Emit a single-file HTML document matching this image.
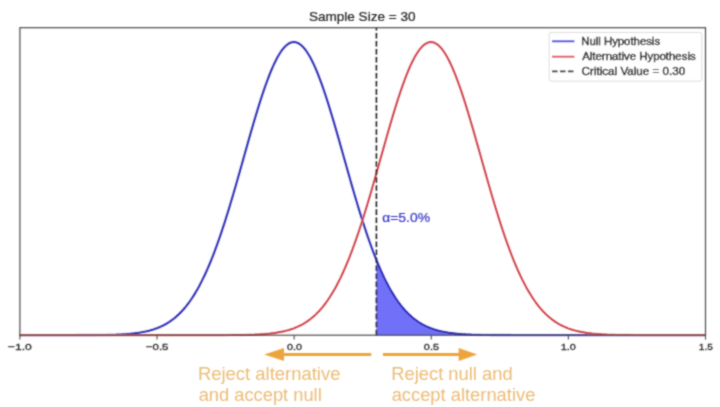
<!DOCTYPE html>
<html><head><meta charset="utf-8"><style>
html,body{margin:0;padding:0;background:#fff;width:720px;height:407px;overflow:hidden}
svg{display:block}
text{font-family:"Liberation Sans",sans-serif}
.tk{fill:#2a2a2a;stroke:#2a2a2a;stroke-width:0.3px}
.ti{fill:#262626;stroke:#262626;stroke-width:0.22px}
.al{fill:#3434c8;stroke:#3434c8;stroke-width:0.2px}
.lg{fill:#1e1e1e;stroke:#1e1e1e;stroke-width:0.4px}
.ot{fill:#ebbc76}
</style></head><body>
<svg width="720" height="407" viewBox="0 0 720 407">
<defs><path id="pn" d="M19.60,335.20 L20.97,335.20 L22.34,335.20 L23.71,335.20 L25.08,335.20 L26.46,335.20 L27.83,335.20 L29.20,335.20 L30.57,335.20 L31.94,335.20 L33.31,335.20 L34.68,335.20 L36.05,335.20 L37.43,335.20 L38.80,335.20 L40.17,335.20 L41.54,335.20 L42.91,335.20 L44.28,335.20 L45.65,335.20 L47.02,335.20 L48.40,335.20 L49.77,335.20 L51.14,335.20 L52.51,335.20 L53.88,335.20 L55.25,335.20 L56.62,335.20 L57.99,335.20 L59.36,335.19 L60.74,335.19 L62.11,335.19 L63.48,335.19 L64.85,335.19 L66.22,335.19 L67.59,335.19 L68.96,335.19 L70.33,335.19 L71.71,335.18 L73.08,335.18 L74.45,335.18 L75.82,335.18 L77.19,335.17 L78.56,335.17 L79.93,335.17 L81.30,335.16 L82.68,335.16 L84.05,335.15 L85.42,335.15 L86.79,335.14 L88.16,335.14 L89.53,335.13 L90.90,335.12 L92.27,335.11 L93.64,335.10 L95.02,335.09 L96.39,335.08 L97.76,335.06 L99.13,335.05 L100.50,335.03 L101.87,335.01 L103.24,334.99 L104.61,334.97 L105.99,334.94 L107.36,334.92 L108.73,334.88 L110.10,334.85 L111.47,334.81 L112.84,334.77 L114.21,334.73 L115.58,334.68 L116.96,334.63 L118.33,334.57 L119.70,334.51 L121.07,334.44 L122.44,334.36 L123.81,334.28 L125.18,334.19 L126.55,334.10 L127.92,333.99 L129.30,333.88 L130.67,333.75 L132.04,333.62 L133.41,333.47 L134.78,333.31 L136.15,333.14 L137.52,332.96 L138.89,332.76 L140.27,332.54 L141.64,332.31 L143.01,332.06 L144.38,331.79 L145.75,331.51 L147.12,331.20 L148.49,330.86 L149.86,330.51 L151.24,330.12 L152.61,329.71 L153.98,329.28 L155.35,328.81 L156.72,328.31 L158.09,327.77 L159.46,327.20 L160.83,326.60 L162.20,325.95 L163.58,325.26 L164.95,324.53 L166.32,323.76 L167.69,322.94 L169.06,322.07 L170.43,321.14 L171.80,320.17 L173.17,319.14 L174.55,318.05 L175.92,316.90 L177.29,315.68 L178.66,314.41 L180.03,313.06 L181.40,311.65 L182.77,310.17 L184.14,308.61 L185.52,306.97 L186.89,305.26 L188.26,303.47 L189.63,301.60 L191.00,299.64 L192.37,297.59 L193.74,295.46 L195.11,293.24 L196.48,290.93 L197.86,288.53 L199.23,286.03 L200.60,283.44 L201.97,280.75 L203.34,277.97 L204.71,275.08 L206.08,272.11 L207.45,269.03 L208.83,265.85 L210.20,262.58 L211.57,259.21 L212.94,255.74 L214.31,252.18 L215.68,248.52 L217.05,244.76 L218.42,240.92 L219.80,236.99 L221.17,232.97 L222.54,228.86 L223.91,224.67 L225.28,220.41 L226.65,216.06 L228.02,211.65 L229.39,207.17 L230.76,202.63 L232.14,198.02 L233.51,193.37 L234.88,188.67 L236.25,183.92 L237.62,179.14 L238.99,174.32 L240.36,169.49 L241.73,164.63 L243.11,159.77 L244.48,154.90 L245.85,150.03 L247.22,145.18 L248.59,140.34 L249.96,135.54 L251.33,130.76 L252.70,126.03 L254.08,121.35 L255.45,116.73 L256.82,112.18 L258.19,107.70 L259.56,103.31 L260.93,99.01 L262.30,94.81 L263.67,90.72 L265.04,86.74 L266.42,82.90 L267.79,79.18 L269.16,75.60 L270.53,72.17 L271.90,68.90 L273.27,65.78 L274.64,62.84 L276.01,60.06 L277.39,57.47 L278.76,55.07 L280.13,52.85 L281.50,50.83 L282.87,49.02 L284.24,47.40 L285.61,45.99 L286.98,44.80 L288.36,43.82 L289.73,43.05 L291.10,42.50 L292.47,42.17 L293.84,42.06 L295.21,42.17 L296.58,42.50 L297.95,43.05 L299.32,43.82 L300.70,44.80 L302.07,45.99 L303.44,47.40 L304.81,49.02 L306.18,50.83 L307.55,52.85 L308.92,55.07 L310.29,57.47 L311.67,60.06 L313.04,62.84 L314.41,65.78 L315.78,68.90 L317.15,72.17 L318.52,75.60 L319.89,79.18 L321.26,82.90 L322.64,86.74 L324.01,90.72 L325.38,94.81 L326.75,99.01 L328.12,103.31 L329.49,107.70 L330.86,112.18 L332.23,116.73 L333.60,121.35 L334.98,126.03 L336.35,130.76 L337.72,135.54 L339.09,140.34 L340.46,145.18 L341.83,150.03 L343.20,154.90 L344.57,159.77 L345.95,164.63 L347.32,169.49 L348.69,174.32 L350.06,179.14 L351.43,183.92 L352.80,188.67 L354.17,193.37 L355.54,198.02 L356.92,202.63 L358.29,207.17 L359.66,211.65 L361.03,216.06 L362.40,220.41 L363.77,224.67 L365.14,228.86 L366.51,232.97 L367.88,236.99 L369.26,240.92 L370.63,244.76 L372.00,248.52 L373.37,252.18 L374.74,255.74 L376.11,259.21 L377.48,262.58 L378.85,265.85 L380.23,269.03 L381.60,272.11 L382.97,275.08 L384.34,277.97 L385.71,280.75 L387.08,283.44 L388.45,286.03 L389.82,288.53 L391.20,290.93 L392.57,293.24 L393.94,295.46 L395.31,297.59 L396.68,299.64 L398.05,301.60 L399.42,303.47 L400.79,305.26 L402.16,306.97 L403.54,308.61 L404.91,310.17 L406.28,311.65 L407.65,313.06 L409.02,314.41 L410.39,315.68 L411.76,316.90 L413.13,318.05 L414.51,319.14 L415.88,320.17 L417.25,321.14 L418.62,322.07 L419.99,322.94 L421.36,323.76 L422.73,324.53 L424.10,325.26 L425.48,325.95 L426.85,326.60 L428.22,327.20 L429.59,327.77 L430.96,328.31 L432.33,328.81 L433.70,329.28 L435.07,329.71 L436.44,330.12 L437.82,330.51 L439.19,330.86 L440.56,331.20 L441.93,331.51 L443.30,331.79 L444.67,332.06 L446.04,332.31 L447.41,332.54 L448.79,332.76 L450.16,332.96 L451.53,333.14 L452.90,333.31 L454.27,333.47 L455.64,333.62 L457.01,333.75 L458.38,333.88 L459.76,333.99 L461.13,334.10 L462.50,334.19 L463.87,334.28 L465.24,334.36 L466.61,334.44 L467.98,334.51 L469.35,334.57 L470.72,334.63 L472.10,334.68 L473.47,334.73 L474.84,334.77 L476.21,334.81 L477.58,334.85 L478.95,334.88 L480.32,334.92 L481.69,334.94 L483.07,334.97 L484.44,334.99 L485.81,335.01 L487.18,335.03 L488.55,335.05 L489.92,335.06 L491.29,335.08 L492.66,335.09 L494.04,335.10 L495.41,335.11 L496.78,335.12 L498.15,335.13 L499.52,335.14 L500.89,335.14 L502.26,335.15 L503.63,335.15 L505.00,335.16 L506.38,335.16 L507.75,335.17 L509.12,335.17 L510.49,335.17 L511.86,335.18 L513.23,335.18 L514.60,335.18 L515.97,335.18 L517.35,335.19 L518.72,335.19 L520.09,335.19 L521.46,335.19 L522.83,335.19 L524.20,335.19 L525.57,335.19 L526.94,335.19 L528.32,335.19 L529.69,335.20 L531.06,335.20 L532.43,335.20 L533.80,335.20 L535.17,335.20 L536.54,335.20 L537.91,335.20 L539.28,335.20 L540.66,335.20 L542.03,335.20 L543.40,335.20 L544.77,335.20 L546.14,335.20 L547.51,335.20 L548.88,335.20 L550.25,335.20 L551.63,335.20 L553.00,335.20 L554.37,335.20 L555.74,335.20 L557.11,335.20 L558.48,335.20 L559.85,335.20 L561.22,335.20 L562.60,335.20 L563.97,335.20 L565.34,335.20 L566.71,335.20 L568.08,335.20 L569.45,335.20 L570.82,335.20 L572.19,335.20 L573.56,335.20 L574.94,335.20 L576.31,335.20 L577.68,335.20 L579.05,335.20 L580.42,335.20 L581.79,335.20 L583.16,335.20 L584.53,335.20 L585.91,335.20 L587.28,335.20 L588.65,335.20 L590.02,335.20 L591.39,335.20 L592.76,335.20 L594.13,335.20 L595.50,335.20 L596.88,335.20 L598.25,335.20 L599.62,335.20 L600.99,335.20 L602.36,335.20 L603.73,335.20 L605.10,335.20 L606.47,335.20 L607.84,335.20 L609.22,335.20 L610.59,335.20 L611.96,335.20 L613.33,335.20 L614.70,335.20 L616.07,335.20 L617.44,335.20 L618.81,335.20 L620.19,335.20 L621.56,335.20 L622.93,335.20 L624.30,335.20 L625.67,335.20 L627.04,335.20 L628.41,335.20 L629.78,335.20 L631.16,335.20 L632.53,335.20 L633.90,335.20 L635.27,335.20 L636.64,335.20 L638.01,335.20 L639.38,335.20 L640.75,335.20 L642.12,335.20 L643.50,335.20 L644.87,335.20 L646.24,335.20 L647.61,335.20 L648.98,335.20 L650.35,335.20 L651.72,335.20 L653.09,335.20 L654.47,335.20 L655.84,335.20 L657.21,335.20 L658.58,335.20 L659.95,335.20 L661.32,335.20 L662.69,335.20 L664.06,335.20 L665.44,335.20 L666.81,335.20 L668.18,335.20 L669.55,335.20 L670.92,335.20 L672.29,335.20 L673.66,335.20 L675.03,335.20 L676.40,335.20 L677.78,335.20 L679.15,335.20 L680.52,335.20 L681.89,335.20 L683.26,335.20 L684.63,335.20 L686.00,335.20 L687.37,335.20 L688.75,335.20 L690.12,335.20 L691.49,335.20 L692.86,335.20 L694.23,335.20 L695.60,335.20 L696.97,335.20 L698.34,335.20 L699.72,335.20 L701.09,335.20 L702.46,335.20 L703.83,335.20 L705.20,335.20"/><path id="pa" d="M19.60,335.20 L20.97,335.20 L22.34,335.20 L23.71,335.20 L25.08,335.20 L26.46,335.20 L27.83,335.20 L29.20,335.20 L30.57,335.20 L31.94,335.20 L33.31,335.20 L34.68,335.20 L36.05,335.20 L37.43,335.20 L38.80,335.20 L40.17,335.20 L41.54,335.20 L42.91,335.20 L44.28,335.20 L45.65,335.20 L47.02,335.20 L48.40,335.20 L49.77,335.20 L51.14,335.20 L52.51,335.20 L53.88,335.20 L55.25,335.20 L56.62,335.20 L57.99,335.20 L59.36,335.20 L60.74,335.20 L62.11,335.20 L63.48,335.20 L64.85,335.20 L66.22,335.20 L67.59,335.20 L68.96,335.20 L70.33,335.20 L71.71,335.20 L73.08,335.20 L74.45,335.20 L75.82,335.20 L77.19,335.20 L78.56,335.20 L79.93,335.20 L81.30,335.20 L82.68,335.20 L84.05,335.20 L85.42,335.20 L86.79,335.20 L88.16,335.20 L89.53,335.20 L90.90,335.20 L92.27,335.20 L93.64,335.20 L95.02,335.20 L96.39,335.20 L97.76,335.20 L99.13,335.20 L100.50,335.20 L101.87,335.20 L103.24,335.20 L104.61,335.20 L105.99,335.20 L107.36,335.20 L108.73,335.20 L110.10,335.20 L111.47,335.20 L112.84,335.20 L114.21,335.20 L115.58,335.20 L116.96,335.20 L118.33,335.20 L119.70,335.20 L121.07,335.20 L122.44,335.20 L123.81,335.20 L125.18,335.20 L126.55,335.20 L127.92,335.20 L129.30,335.20 L130.67,335.20 L132.04,335.20 L133.41,335.20 L134.78,335.20 L136.15,335.20 L137.52,335.20 L138.89,335.20 L140.27,335.20 L141.64,335.20 L143.01,335.20 L144.38,335.20 L145.75,335.20 L147.12,335.20 L148.49,335.20 L149.86,335.20 L151.24,335.20 L152.61,335.20 L153.98,335.20 L155.35,335.20 L156.72,335.20 L158.09,335.20 L159.46,335.20 L160.83,335.20 L162.20,335.20 L163.58,335.20 L164.95,335.20 L166.32,335.20 L167.69,335.20 L169.06,335.20 L170.43,335.20 L171.80,335.20 L173.17,335.20 L174.55,335.20 L175.92,335.20 L177.29,335.20 L178.66,335.20 L180.03,335.20 L181.40,335.20 L182.77,335.20 L184.14,335.20 L185.52,335.20 L186.89,335.20 L188.26,335.20 L189.63,335.20 L191.00,335.20 L192.37,335.20 L193.74,335.20 L195.11,335.20 L196.48,335.19 L197.86,335.19 L199.23,335.19 L200.60,335.19 L201.97,335.19 L203.34,335.19 L204.71,335.19 L206.08,335.19 L207.45,335.19 L208.83,335.18 L210.20,335.18 L211.57,335.18 L212.94,335.18 L214.31,335.17 L215.68,335.17 L217.05,335.17 L218.42,335.16 L219.80,335.16 L221.17,335.15 L222.54,335.15 L223.91,335.14 L225.28,335.14 L226.65,335.13 L228.02,335.12 L229.39,335.11 L230.76,335.10 L232.14,335.09 L233.51,335.08 L234.88,335.06 L236.25,335.05 L237.62,335.03 L238.99,335.01 L240.36,334.99 L241.73,334.97 L243.11,334.94 L244.48,334.92 L245.85,334.88 L247.22,334.85 L248.59,334.81 L249.96,334.77 L251.33,334.73 L252.70,334.68 L254.08,334.63 L255.45,334.57 L256.82,334.51 L258.19,334.44 L259.56,334.36 L260.93,334.28 L262.30,334.19 L263.67,334.10 L265.04,333.99 L266.42,333.88 L267.79,333.75 L269.16,333.62 L270.53,333.47 L271.90,333.31 L273.27,333.14 L274.64,332.96 L276.01,332.76 L277.39,332.54 L278.76,332.31 L280.13,332.06 L281.50,331.79 L282.87,331.51 L284.24,331.20 L285.61,330.86 L286.98,330.51 L288.36,330.12 L289.73,329.71 L291.10,329.28 L292.47,328.81 L293.84,328.31 L295.21,327.77 L296.58,327.20 L297.95,326.60 L299.32,325.95 L300.70,325.26 L302.07,324.53 L303.44,323.76 L304.81,322.94 L306.18,322.07 L307.55,321.14 L308.92,320.17 L310.29,319.14 L311.67,318.05 L313.04,316.90 L314.41,315.68 L315.78,314.41 L317.15,313.06 L318.52,311.65 L319.89,310.17 L321.26,308.61 L322.64,306.97 L324.01,305.26 L325.38,303.47 L326.75,301.60 L328.12,299.64 L329.49,297.59 L330.86,295.46 L332.23,293.24 L333.60,290.93 L334.98,288.53 L336.35,286.03 L337.72,283.44 L339.09,280.75 L340.46,277.97 L341.83,275.08 L343.20,272.11 L344.57,269.03 L345.95,265.85 L347.32,262.58 L348.69,259.21 L350.06,255.74 L351.43,252.18 L352.80,248.52 L354.17,244.76 L355.54,240.92 L356.92,236.99 L358.29,232.97 L359.66,228.86 L361.03,224.67 L362.40,220.41 L363.77,216.06 L365.14,211.65 L366.51,207.17 L367.88,202.63 L369.26,198.02 L370.63,193.37 L372.00,188.67 L373.37,183.92 L374.74,179.14 L376.11,174.32 L377.48,169.49 L378.85,164.63 L380.23,159.77 L381.60,154.90 L382.97,150.03 L384.34,145.18 L385.71,140.34 L387.08,135.54 L388.45,130.76 L389.82,126.03 L391.20,121.35 L392.57,116.73 L393.94,112.18 L395.31,107.70 L396.68,103.31 L398.05,99.01 L399.42,94.81 L400.79,90.72 L402.16,86.74 L403.54,82.90 L404.91,79.18 L406.28,75.60 L407.65,72.17 L409.02,68.90 L410.39,65.78 L411.76,62.84 L413.13,60.06 L414.51,57.47 L415.88,55.07 L417.25,52.85 L418.62,50.83 L419.99,49.02 L421.36,47.40 L422.73,45.99 L424.10,44.80 L425.48,43.82 L426.85,43.05 L428.22,42.50 L429.59,42.17 L430.96,42.06 L432.33,42.17 L433.70,42.50 L435.07,43.05 L436.44,43.82 L437.82,44.80 L439.19,45.99 L440.56,47.40 L441.93,49.02 L443.30,50.83 L444.67,52.85 L446.04,55.07 L447.41,57.47 L448.79,60.06 L450.16,62.84 L451.53,65.78 L452.90,68.90 L454.27,72.17 L455.64,75.60 L457.01,79.18 L458.38,82.90 L459.76,86.74 L461.13,90.72 L462.50,94.81 L463.87,99.01 L465.24,103.31 L466.61,107.70 L467.98,112.18 L469.35,116.73 L470.72,121.35 L472.10,126.03 L473.47,130.76 L474.84,135.54 L476.21,140.34 L477.58,145.18 L478.95,150.03 L480.32,154.90 L481.69,159.77 L483.07,164.63 L484.44,169.49 L485.81,174.32 L487.18,179.14 L488.55,183.92 L489.92,188.67 L491.29,193.37 L492.66,198.02 L494.04,202.63 L495.41,207.17 L496.78,211.65 L498.15,216.06 L499.52,220.41 L500.89,224.67 L502.26,228.86 L503.63,232.97 L505.00,236.99 L506.38,240.92 L507.75,244.76 L509.12,248.52 L510.49,252.18 L511.86,255.74 L513.23,259.21 L514.60,262.58 L515.97,265.85 L517.35,269.03 L518.72,272.11 L520.09,275.08 L521.46,277.97 L522.83,280.75 L524.20,283.44 L525.57,286.03 L526.94,288.53 L528.32,290.93 L529.69,293.24 L531.06,295.46 L532.43,297.59 L533.80,299.64 L535.17,301.60 L536.54,303.47 L537.91,305.26 L539.28,306.97 L540.66,308.61 L542.03,310.17 L543.40,311.65 L544.77,313.06 L546.14,314.41 L547.51,315.68 L548.88,316.90 L550.25,318.05 L551.63,319.14 L553.00,320.17 L554.37,321.14 L555.74,322.07 L557.11,322.94 L558.48,323.76 L559.85,324.53 L561.22,325.26 L562.60,325.95 L563.97,326.60 L565.34,327.20 L566.71,327.77 L568.08,328.31 L569.45,328.81 L570.82,329.28 L572.19,329.71 L573.56,330.12 L574.94,330.51 L576.31,330.86 L577.68,331.20 L579.05,331.51 L580.42,331.79 L581.79,332.06 L583.16,332.31 L584.53,332.54 L585.91,332.76 L587.28,332.96 L588.65,333.14 L590.02,333.31 L591.39,333.47 L592.76,333.62 L594.13,333.75 L595.50,333.88 L596.88,333.99 L598.25,334.10 L599.62,334.19 L600.99,334.28 L602.36,334.36 L603.73,334.44 L605.10,334.51 L606.47,334.57 L607.84,334.63 L609.22,334.68 L610.59,334.73 L611.96,334.77 L613.33,334.81 L614.70,334.85 L616.07,334.88 L617.44,334.92 L618.81,334.94 L620.19,334.97 L621.56,334.99 L622.93,335.01 L624.30,335.03 L625.67,335.05 L627.04,335.06 L628.41,335.08 L629.78,335.09 L631.16,335.10 L632.53,335.11 L633.90,335.12 L635.27,335.13 L636.64,335.14 L638.01,335.14 L639.38,335.15 L640.75,335.15 L642.12,335.16 L643.50,335.16 L644.87,335.17 L646.24,335.17 L647.61,335.17 L648.98,335.18 L650.35,335.18 L651.72,335.18 L653.09,335.18 L654.47,335.19 L655.84,335.19 L657.21,335.19 L658.58,335.19 L659.95,335.19 L661.32,335.19 L662.69,335.19 L664.06,335.19 L665.44,335.19 L666.81,335.20 L668.18,335.20 L669.55,335.20 L670.92,335.20 L672.29,335.20 L673.66,335.20 L675.03,335.20 L676.40,335.20 L677.78,335.20 L679.15,335.20 L680.52,335.20 L681.89,335.20 L683.26,335.20 L684.63,335.20 L686.00,335.20 L687.37,335.20 L688.75,335.20 L690.12,335.20 L691.49,335.20 L692.86,335.20 L694.23,335.20 L695.60,335.20 L696.97,335.20 L698.34,335.20 L699.72,335.20 L701.09,335.20 L702.46,335.20 L703.83,335.20 L705.20,335.20"/><filter id="bl" x="-2%" y="-2%" width="104%" height="104%"><feConvolveMatrix order="3" kernelMatrix="1 2 1 2 8 2 1 2 1" edgeMode="none"/></filter></defs>
<rect width="720" height="407" fill="#fff"/>
<g filter="url(#bl)">
<use href="#pn" fill="none" stroke-linejoin="round" stroke="#aeaef4" stroke-width="2.6"/>
<path d="M376.41,259.21 L377.73,262.45 L379.04,265.59 L380.36,268.65 L381.68,271.62 L382.99,274.50 L384.31,277.28 L385.63,279.98 L386.94,282.59 L388.26,285.11 L389.58,287.54 L390.89,289.89 L392.21,292.15 L393.52,294.32 L394.84,296.41 L396.16,298.42 L397.47,300.35 L398.79,302.20 L400.11,303.98 L401.42,305.68 L402.74,307.31 L404.06,308.86 L405.37,310.35 L406.69,311.77 L408.00,313.12 L409.32,314.41 L410.64,315.63 L411.95,316.80 L413.27,317.91 L414.59,318.96 L415.90,319.96 L417.22,320.91 L418.54,321.81 L419.85,322.66 L421.17,323.47 L422.48,324.23 L423.80,324.95 L425.12,325.63 L426.43,326.26 L427.75,326.87 L429.07,327.43 L430.38,327.97 L431.70,328.47 L433.02,328.94 L434.33,329.38 L435.65,329.80 L436.96,330.19 L438.28,330.55 L439.60,330.89 L440.91,331.21 L442.23,331.51 L443.55,331.78 L444.86,332.04 L446.18,332.28 L447.50,332.51 L448.81,332.72 L450.13,332.91 L451.44,333.09 L452.76,333.26 L454.08,333.42 L455.39,333.56 L456.71,333.69 L458.03,333.82 L459.34,333.93 L460.66,334.04 L461.97,334.14 L463.29,334.23 L464.61,334.31 L465.92,334.39 L467.24,334.46 L468.56,334.52 L469.87,334.58 L471.19,334.64 L472.51,334.69 L473.82,334.73 L475.14,334.77 L476.45,334.81 L477.77,334.85 L479.09,334.88 L480.40,334.91 L481.72,334.94 L483.04,334.96 L484.35,334.98 L485.67,335.01 L486.99,335.02 L488.30,335.04 L489.62,335.06 L490.93,335.07 L492.25,335.08 L493.57,335.09 L494.88,335.11 L496.20,335.11 L497.52,335.12 L498.83,335.13 L500.15,335.14 L501.47,335.14 L502.78,335.15 L504.10,335.16 L505.41,335.16 L506.73,335.16 L508.05,335.17 L509.36,335.17 L510.68,335.17 L512.00,335.18 L513.31,335.18 L514.63,335.18 L515.95,335.18 L517.26,335.19 L518.58,335.19 L519.89,335.19 L521.21,335.19 L522.53,335.19 L523.84,335.19 L525.16,335.19 L526.48,335.19 L527.79,335.19 L529.11,335.20 L530.43,335.20 L531.74,335.20 L533.06,335.20 L534.37,335.20 L535.69,335.20 L537.01,335.20 L538.32,335.20 L539.64,335.20 L540.96,335.20 L542.27,335.20 L543.59,335.20 L544.91,335.20 L546.22,335.20 L547.54,335.20 L548.85,335.20 L550.17,335.20 L551.49,335.20 L552.80,335.20 L554.12,335.20 L555.44,335.20 L556.75,335.20 L558.07,335.20 L559.38,335.20 L560.70,335.20 L562.02,335.20 L563.33,335.20 L564.65,335.20 L565.97,335.20 L567.28,335.20 L568.60,335.20 L569.92,335.20 L571.23,335.20 L572.55,335.20 L573.86,335.20 L575.18,335.20 L576.50,335.20 L577.81,335.20 L579.13,335.20 L580.45,335.20 L581.76,335.20 L583.08,335.20 L584.40,335.20 L585.71,335.20 L587.03,335.20 L588.34,335.20 L589.66,335.20 L590.98,335.20 L592.29,335.20 L593.61,335.20 L594.93,335.20 L596.24,335.20 L597.56,335.20 L598.88,335.20 L600.19,335.20 L601.51,335.20 L602.82,335.20 L604.14,335.20 L605.46,335.20 L606.77,335.20 L608.09,335.20 L609.41,335.20 L610.72,335.20 L612.04,335.20 L613.36,335.20 L614.67,335.20 L615.99,335.20 L617.30,335.20 L618.62,335.20 L619.94,335.20 L621.25,335.20 L622.57,335.20 L623.89,335.20 L625.20,335.20 L626.52,335.20 L627.84,335.20 L629.15,335.20 L630.47,335.20 L631.78,335.20 L633.10,335.20 L634.42,335.20 L635.73,335.20 L637.05,335.20 L638.37,335.20 L639.68,335.20 L641.00,335.20 L642.32,335.20 L643.63,335.20 L644.95,335.20 L646.26,335.20 L647.58,335.20 L648.90,335.20 L650.21,335.20 L651.53,335.20 L652.85,335.20 L654.16,335.20 L655.48,335.20 L656.79,335.20 L658.11,335.20 L659.43,335.20 L660.74,335.20 L662.06,335.20 L663.38,335.20 L664.69,335.20 L666.01,335.20 L667.33,335.20 L668.64,335.20 L669.96,335.20 L671.27,335.20 L672.59,335.20 L673.91,335.20 L675.22,335.20 L676.54,335.20 L677.86,335.20 L679.17,335.20 L680.49,335.20 L681.81,335.20 L683.12,335.20 L684.44,335.20 L685.75,335.20 L687.07,335.20 L688.39,335.20 L689.70,335.20 L691.02,335.20 L692.34,335.20 L693.65,335.20 L694.97,335.20 L696.29,335.20 L697.60,335.20 L698.92,335.20 L700.23,335.20 L701.55,335.20 L702.87,335.20 L704.18,335.20 L705.50,335.20 L705.50,335.20 L376.41,335.20 Z" fill="#7070f8"/>
<use href="#pn" fill="none" stroke-linejoin="round" stroke="#0e0ca8" stroke-width="1.6"/>
<use href="#pa" fill="none" stroke-linejoin="round" stroke="#f2b4b8" stroke-width="2.5"/>
<use href="#pa" fill="none" stroke-linejoin="round" stroke="#c8202c" stroke-width="1.45"/>
<line x1="376.41" y1="27.7" x2="376.41" y2="335.2" stroke="#1a1a1a" stroke-width="1.55" stroke-dasharray="5.57,2.45" stroke-dashoffset="2.8"/>
<rect x="19.9" y="27.7" width="685.60" height="307.50" fill="none" stroke="#4a4a4a" stroke-width="1.2"/>
<line x1="19.90" y1="335.2" x2="19.90" y2="339.59999999999997" stroke="#4a4a4a" stroke-width="1.1"/>
<line x1="157.02" y1="335.2" x2="157.02" y2="339.59999999999997" stroke="#4a4a4a" stroke-width="1.1"/>
<line x1="294.14" y1="335.2" x2="294.14" y2="339.59999999999997" stroke="#4a4a4a" stroke-width="1.1"/>
<line x1="431.26" y1="335.2" x2="431.26" y2="339.59999999999997" stroke="#4a4a4a" stroke-width="1.1"/>
<line x1="568.38" y1="335.2" x2="568.38" y2="339.59999999999997" stroke="#4a4a4a" stroke-width="1.1"/>
<line x1="705.50" y1="335.2" x2="705.50" y2="339.59999999999997" stroke="#4a4a4a" stroke-width="1.1"/>
<text transform="translate(7.85,350.20) scale(1.2883,1)" font-size="9.4" class="tk">−1.0</text>
<text transform="translate(145.83,350.20) scale(1.2210,1)" font-size="9.4" class="tk">−0.5</text>
<text transform="translate(286.97,350.20) scale(1.1514,1)" font-size="9.4" class="tk">0.0</text>
<text transform="translate(423.87,350.20) scale(1.1549,1)" font-size="9.4" class="tk">0.5</text>
<text transform="translate(560.67,350.20) scale(1.1589,1)" font-size="9.4" class="tk">1.0</text>
<text transform="translate(698.84,350.20) scale(1.0705,1)" font-size="9.4" class="tk">1.5</text>
<text transform="translate(308.88,20.60) scale(1.1308,1)" font-size="12.0" class="ti">Sample Size = 30</text>
<text transform="translate(382.22,221.60) scale(1.0539,1)" font-size="13.2" class="al">α=5.0%</text>
<rect x="549.2" y="32.4" width="152.6" height="48.8" rx="2" fill="#fff" stroke="#dcdcdc" stroke-width="1"/>
<line x1="552" y1="41.3" x2="574.4" y2="41.3" stroke="#3c3cd8" stroke-width="1.9"/>
<text transform="translate(581.27,44.80) scale(1.1347,1)" font-size="10.0" class="lg">Null Hypothesis</text>
<line x1="552" y1="56.7" x2="574.4" y2="56.7" stroke="#dc4c54" stroke-width="1.9"/>
<text transform="translate(582.18,60.00) scale(1.1421,1)" font-size="10.0" class="lg">Alternative Hypothesis</text>
<line x1="552" y1="71.4" x2="574.4" y2="71.4" stroke="#1a1a1a" stroke-width="1.9" stroke-dasharray="5.55,2.4"/>
<text transform="translate(581.62,74.60) scale(1.1652,1)" font-size="10.0" class="lg">Critical Value = 0.30</text>
<line x1="371.3" y1="354.5" x2="280" y2="354.5" stroke="#eea43c" stroke-width="3"/>
<path d="M264.2,354.6 L284,347.9 L284,360.9 Z" fill="#eea43c"/>
<line x1="382.9" y1="354.4" x2="462" y2="354.4" stroke="#eea43c" stroke-width="3"/>
<path d="M477.2,354.4 L458.7,347.9 L458.7,360.9 Z" fill="#eea43c"/>
<text transform="translate(197.89,380.30) scale(1.0313,1)" font-size="17.9" class="ot">Reject alternative</text>
<text transform="translate(198.63,401.20) scale(1.0231,1)" font-size="17.9" class="ot">and accept null</text>
<text transform="translate(391.19,380.30) scale(1.0267,1)" font-size="17.9" class="ot">Reject null and</text>
<text transform="translate(391.63,401.20) scale(1.0255,1)" font-size="17.9" class="ot">accept alternative</text>
</g>
</svg>
</body></html>
